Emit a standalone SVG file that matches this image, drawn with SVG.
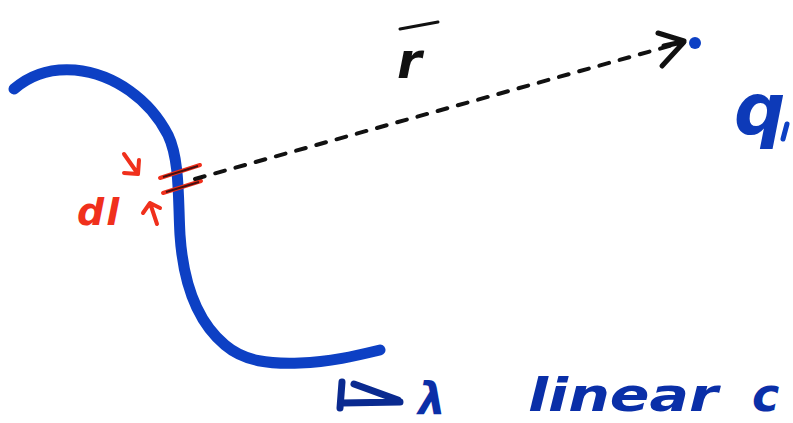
<svg xmlns="http://www.w3.org/2000/svg" width="793" height="423" viewBox="0 0 793 423">
<defs>
<style>
.blue{fill:none;stroke:#0d40c4;stroke-linecap:round;stroke-linejoin:round}
.ink{fill:none;stroke:#111;stroke-linecap:round;stroke-linejoin:round}
.red{fill:none;stroke:#f0301c;stroke-linecap:round;stroke-linejoin:round}
.hand{font-family:"DejaVu Sans",sans-serif;font-style:italic;font-weight:bold}
</style>
</defs>
<rect width="793" height="423" fill="#fff"/>
<g id="line-charge">
<path class="blue" stroke-width="11" d="M14,89 C30,75 50,68 75,70 C115,74 150,100 168,135 C180,160 178,200 180,235 C183,280 195,320 225,345 C245,362 270,364 300,363 C330,362 355,356 380,350"/>
</g>
<g id="element-dl">
<path class="red" stroke-width="4" d="M160,178 L200,165 M163,193 L201,181"/>
<path stroke="#4a1010" stroke-width="2" fill="none" d="M163,177 L198,166 M166,192 L199,182"/>
<path class="red" stroke-width="4" d="M124,154 L138,174 M124,173 L138,174 L139,160"/>
<path class="red" stroke-width="4" d="M157,224 L150,203 M143,213 L150,203 L160,208"/>
<text class="hand" x="77" y="225" font-size="38" fill="#f0301c" letter-spacing="2">dl</text>
</g>
<g id="connectors">
<path class="ink" stroke-width="4" stroke-dasharray="10 11" d="M195,179 L680,43"/>
<path class="ink" stroke-width="5" d="M658,33 L684,41 M662,66 L684,42 M664,46 L682,42"/>
</g>
<g id="charge-q1">
<circle cx="695" cy="43" r="6" fill="#0d40c4"/>
<text class="hand" x="734" y="134" font-size="72" fill="#0d3ab8">q</text>
<path class="blue" stroke-width="5" d="M787,124 L783,139"/>
</g>
<g id="label-r">
<path class="ink" stroke-width="3" d="M400,29 L438,22"/>
<text class="hand" x="397" y="78" font-size="50" fill="#111">r</text>
</g>
<g id="label-bottom">
<path stroke="#0a2a90" stroke-width="7" fill="none" stroke-linecap="round" stroke-linejoin="round" d="M342,382 L340,408 M342,403 L400,402 M354,384 L398,400"/>
<text class="hand" x="418" y="414" font-size="44" fill="#0a2fa8">λ</text>
<text class="hand" x="528" y="411" font-size="46" fill="#0a2fa8" textLength="190" lengthAdjust="spacingAndGlyphs">linear</text>
<text class="hand" x="752" y="411" font-size="46" fill="#0a2fa8">c</text>
</g>
</svg>
